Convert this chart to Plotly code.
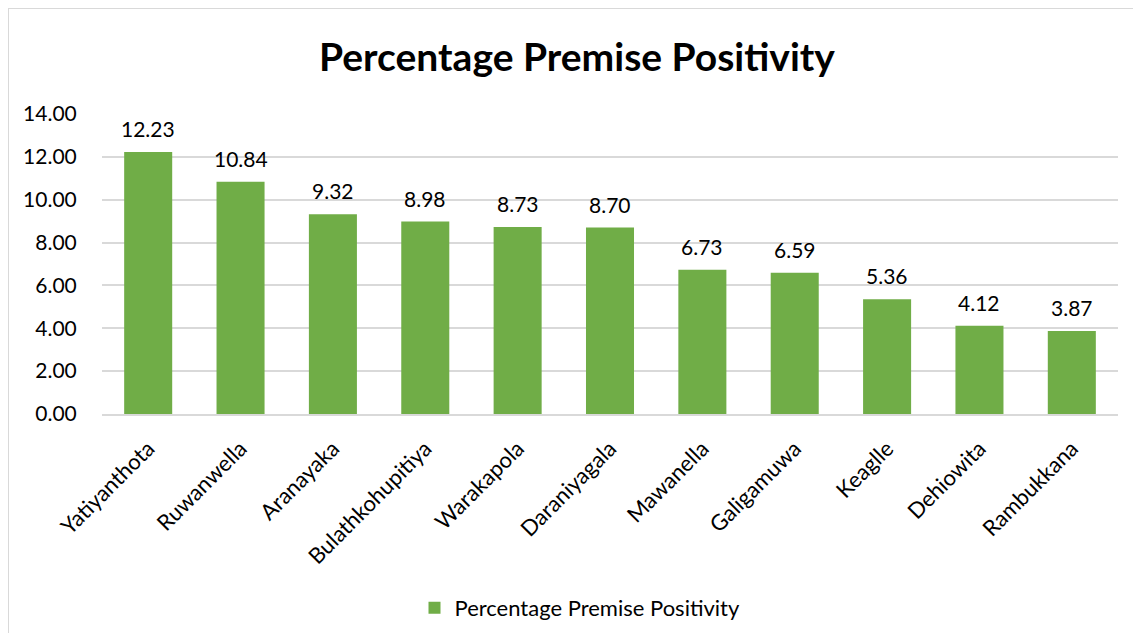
import plotly.graph_objects as go

categories = ["Yatiyanthota", "Ruwanwella", "Aranayaka", "Bulathkohupitiya", "Warakapola",
              "Daraniyagala", "Mawanella", "Galigamuwa", "Keaglle", "Dehiowita", "Rambukkana"]
values = [12.23, 10.84, 9.32, 8.98, 8.73, 8.70, 6.73, 6.59, 5.36, 4.12, 3.87]
y_ticks = [0, 2, 4, 6, 8, 10, 12, 14]
series_name = "Percentage Premise Positivity"
title_text = "Percentage Premise Positivity"

FONT = "Lato, Calibri, Carlito, sans-serif"

W, H = 1125, 625
L, R, T, B = 94, 15, 106, 219
PW, PH = W - L - R, H - T - B

fig = go.Figure()
fig.add_trace(go.Bar(
    x=categories, y=values, name=series_name,
    marker=dict(color="#70AD47", line=dict(width=0)),
    showlegend=True,
))

for c, v in zip(categories, values):
    fig.add_annotation(x=c, y=v, text=f"{v:.2f}", showarrow=False,
                       xanchor="center", yanchor="bottom", yshift=9,
                       font=dict(family=FONT, size=21, color="#000000"))

border = dict(color="#d9d9d9", width=2)
fig.update_layout(
    width=W, height=H,
    paper_bgcolor="white", plot_bgcolor="white",
    margin=dict(l=L, r=R, t=T, b=B, autoexpand=False),
    title=dict(text=f"<b>{title_text}</b>", x=569 / W, xanchor="center", y=1 - 49 / H, yanchor="middle",
               font=dict(family=FONT, size=39, color="#000000")),
    bargap=0.48,
    font=dict(family=FONT, color="#000000"),
    xaxis=dict(showgrid=False, showline=True, linecolor="#d9d9d9", linewidth=2, automargin=False,
               tickangle=-45, ticks="outside", ticklen=11, tickcolor="rgba(0,0,0,0)",
               tickfont=dict(family=FONT, size=22, color="#000000")),
    yaxis=dict(range=[0, 14], tickvals=y_ticks, tickformat=".2f", automargin=False,
               showgrid=True, gridcolor="#d9d9d9", gridwidth=1.5, zeroline=False,
               showline=False, ticks="outside", ticklen=20, tickcolor="rgba(0,0,0,0)",
               tickfont=dict(family=FONT, size=21, color="#000000")),
    legend=dict(orientation="h", x=(572 - L) / PW, xanchor="center", y=(406 - 600) / PH, yanchor="middle",
                font=dict(family=FONT, size=22, color="#000000"), itemwidth=30),
    shapes=[
        dict(type="line", xref="paper", yref="paper",
             x0=-L / PW, x1=-L / PW, y0=-B / PH, y1=1 + T / PH, line=border, layer="below"),
        dict(type="line", xref="paper", yref="paper",
             x0=-L / PW, x1=1 + R / PW, y0=1 + T / PH, y1=1 + T / PH, line=border, layer="below"),
    ],
)

fig.write_html("out.html")
